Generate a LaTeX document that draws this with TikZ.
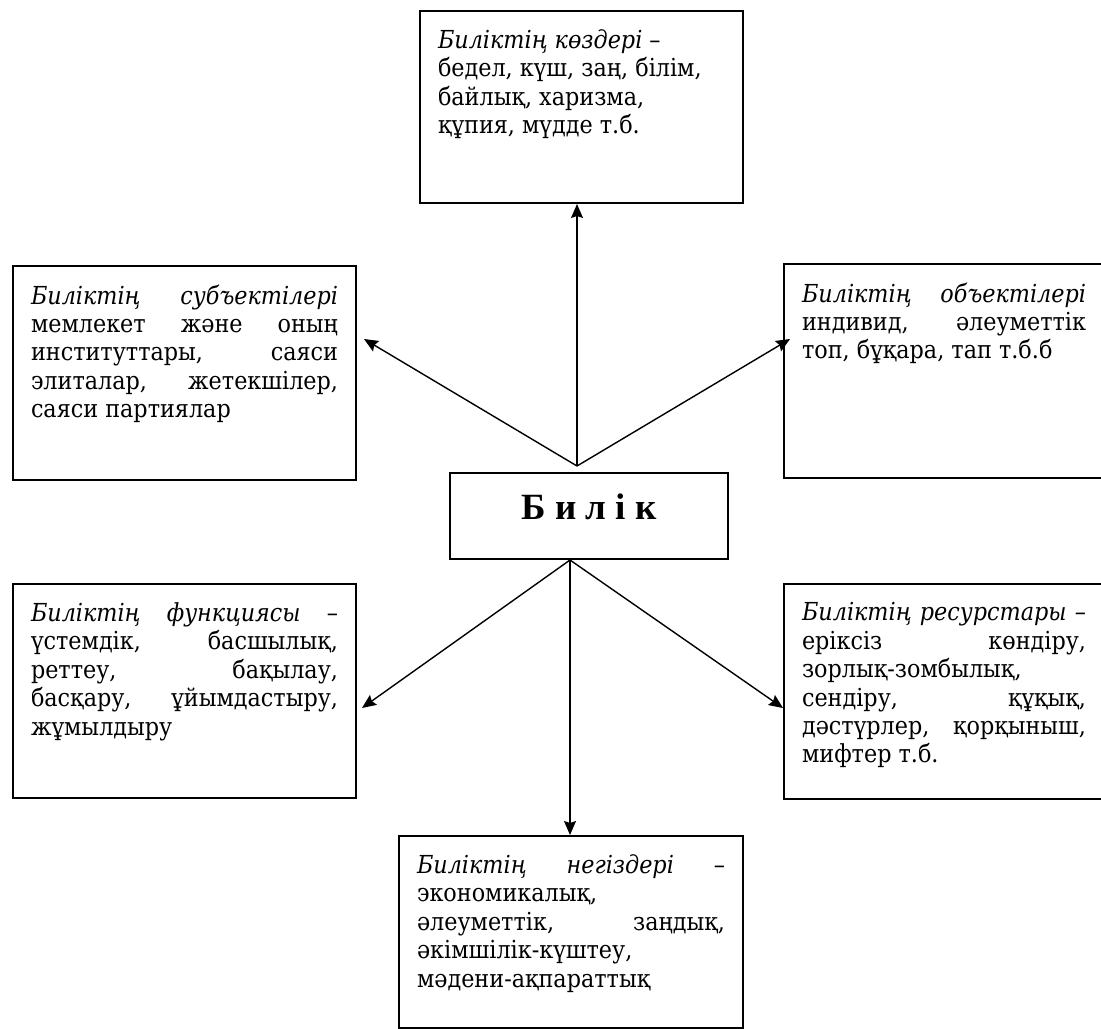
\documentclass[tikz,border=0pt]{standalone}
\usepackage{fontspec}
\setmainfont{DejaVu Serif Condensed}
\newfontfamily\titlefont{Liberation Serif}
\usetikzlibrary{arrows.meta}

\begin{document}
\begin{tikzpicture}[x=0.5pt,y=-0.5pt,
    infobox/.style={draw,line width=1pt,anchor=north west,inner xsep=9pt,inner ysep=9.3pt,
      font=\fontsize{12.4}{14.2}\selectfont},
    centrebox/.style={draw,line width=1pt,anchor=north west,inner sep=0pt,
      minimum width=139pt,minimum height=43pt,text height=12pt,text depth=9pt,
      font=\titlefont\fontsize{18.5}{20}\selectfont\bfseries},
    link/.style={-{Stealth[length=7pt,width=6pt,inset=1pt]},line width=0.7pt}]
\newcommand{\infobox}[6]{
  \node[infobox] (#1) at (#2,#3) {\parbox[t][#5][t]{#4}{#6}};
}
% one justified line of a box
\newcommand{\jl}[1]{\makebox[\linewidth][s]{#1}\\}

\useasboundingbox (0,0) rectangle (1101,1028);

% the six boxes round the centre
\infobox{src}{419}{10}{143.5pt}{77.4pt}{\textit{Биліктің көздері} –\\ бедел, күш, заң, білім,\\ байлық, харизма,\\ құпия, мүдде т.б.}
\infobox{subj}{12}{265}{153.5pt}{88.4pt}{\jl{\textit{Биліктің субъектілері}}\jl{мемлекет және оның}\jl{институттары, саяси}\jl{элиталар, жетекшілер,}саяси партиялар}
\infobox{obj}{783}{263}{142pt}{88.4pt}{\jl{\textit{Биліктің объектілері}}\jl{индивид, әлеуметтік}топ, бұқара, тап т.б.б}
\infobox{func}{12}{583}{153.5pt}{88.4pt}{\jl{\textit{Биліктің функциясы} –}\jl{үстемдік, басшылық,}\jl{реттеу, бақылау,}\jl{басқару, ұйымдастыру,}жұмылдыру}
\infobox{res}{783}{583}{142pt}{88.9pt}{\jl{\textit{Биліктің ресурстары} –}\jl{еріксіз көндіру,}зорлық-зомбылық,\\ \jl{сендіру, құқық,}\jl{дәстүрлер, қорқыныш,}мифтер т.б.}
\infobox{bases}{398}{835}{154pt}{77.4pt}{\jl{\textit{Биліктің негіздері} –}экономикалық,\\ \jl{әлеуметтік, заңдық,}әкімшілік-күштеу,\\ мәдени-ақпараттық}

\node[centrebox] (power) at (449,472) {Б и л і к};

% where the arrows meet
\coordinate (hubup) at (577,466);
\coordinate (hubdown) at (570,560);
\coordinate (subjtip) at (364,339);
\coordinate (objtip) at (790,339);
\coordinate (functip) at (362,708);
\coordinate (restip) at (783,708);

\draw[link] (hubup) -- (hubup |- src.south);
\draw[link] (hubup) -- (subjtip);
\draw[link] (hubup) -- (objtip);
\draw[link] (hubdown) -- (functip);
\draw[link] (hubdown) -- (restip);
\draw[link] (hubdown) -- (hubdown |- bases.north);
\end{tikzpicture}
\end{document}
